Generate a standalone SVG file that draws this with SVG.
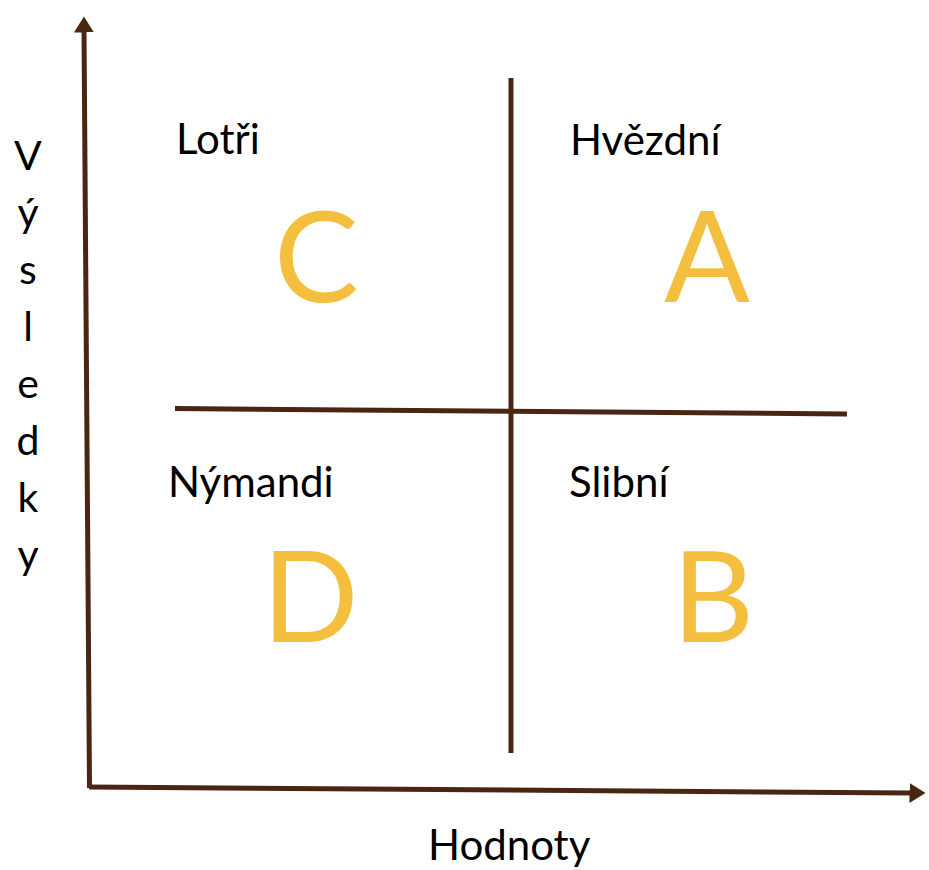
<svg xmlns="http://www.w3.org/2000/svg" width="929" height="870" viewBox="0 0 929 870">
<style>
.ax{stroke:#4a2612;stroke-width:5;fill:none}
.lbl{font-family:Lato,"Liberation Sans",sans-serif;font-size:42px;fill:#000}
.big{font-family:Lato,"Liberation Sans",sans-serif;font-size:127px;fill:#f4bf3f}
.vl{font-family:Lato,"Liberation Sans",sans-serif;font-size:41px;fill:#000;text-anchor:middle}
</style>
<defs>
<marker id="ah" markerWidth="4" markerHeight="4" refX="0.5" refY="2" orient="auto" markerUnits="strokeWidth" viewBox="0 0 4 4">
<path d="M0,0 L3.2,2 L0,4 z" fill="#4a2612"/>
</marker>
</defs>
<g id="connectors">
<line class="ax" x1="89.5" y1="788" x2="84" y2="30" marker-end="url(#ah)"/>
<line class="ax" x1="89" y1="787" x2="912" y2="793" marker-end="url(#ah)"/>
<line class="ax" x1="175" y1="408.5" x2="847" y2="414"/>
<line class="ax" x1="511" y1="78" x2="511" y2="753"/>
</g>
<g id="quadrant-C">
<text class="lbl" x="176" y="154">Lotři</text>
<text class="big" x="274" y="302">C</text>
</g>
<g id="quadrant-A">
<text class="lbl" x="570" y="155">Hvězdní</text>
<text class="big" x="664" y="302">A</text>
</g>
<g id="quadrant-D">
<text class="lbl" x="168" y="497">Nýmandi</text>
<text class="big" x="262" y="642">D</text>
</g>
<g id="quadrant-B">
<text class="lbl" x="569" y="497">Slibní</text>
<text class="big" x="672" y="642">B</text>
</g>
<g id="y-label">
<text class="vl" x="28" y="170">V</text>
<text class="vl" x="28" y="227">ý</text>
<text class="vl" x="28" y="284">s</text>
<text class="vl" x="28" y="341">l</text>
<text class="vl" x="28" y="398">e</text>
<text class="vl" x="28" y="455">d</text>
<text class="vl" x="28" y="512">k</text>
<text class="vl" x="28" y="569">y</text>
</g>
<g id="x-label">
<text class="lbl" x="428" y="860">Hodnoty</text>
</g>
</svg>
